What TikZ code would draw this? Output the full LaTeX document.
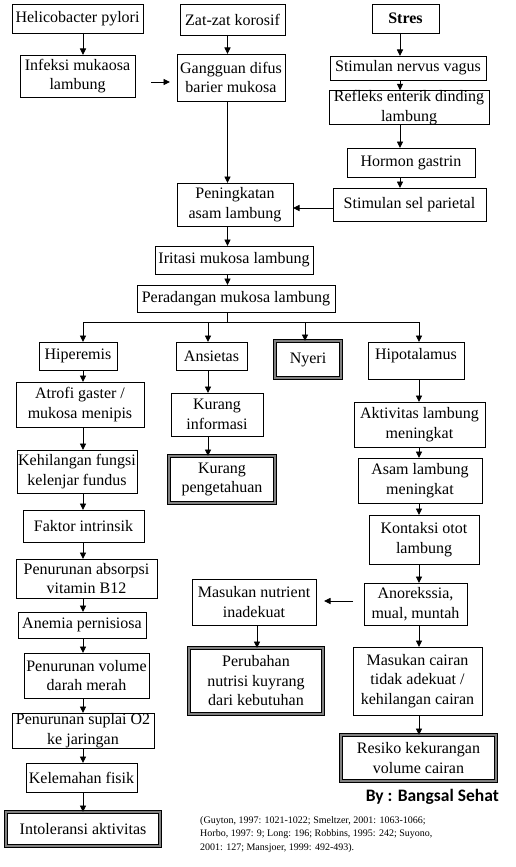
\documentclass[tikz,border=0pt]{standalone}
\usepackage{fontspec}
\setmainfont{Liberation Serif}
\newfontfamily\byfont{Carlito}
\usetikzlibrary{arrows.meta}
\definecolor{dgray}{RGB}{128,128,128}
\newcommand\mybox[7][]{%
 \pgfmathsetmacro\bcx{(#3+#5)/2}%
 \pgfmathsetmacro\bcy{(#4+#6)/2}%
 \pgfmathsetmacro\bw{#5-#3}%
 \pgfmathsetmacro\bh{#6-#4}%
 \node[box,minimum width=\bw pt,minimum height=\bh pt,#1] (#2) at (\bcx,\bcy) {#7};}
\tikzset{
 box/.style={draw, line width=0.9pt, inner sep=0pt, outer sep=0pt, align=center, font=\fontsize{16}{19.5}\selectfont},
 dbox/.style={double=dgray, double distance=2pt, line width=1pt},
 arr/.style={line width=0.9pt, -{Triangle[length=6.5pt,width=6pt]}},
 ln/.style={line width=0.9pt}
}
\begin{document}
\begin{tikzpicture}[x=1pt,y=-1pt]
\useasboundingbox (0,0) rectangle (516,867);
% column coordinates
\coordinate (cL) at (83,0);
\coordinate (cA) at (208,0);
\coordinate (cM) at (227.5,0);
\coordinate (cN) at (305,0);
\coordinate (cS) at (400,0);
\coordinate (cR) at (419,0);
\coordinate (cP) at (257,0);
\coordinate (y82) at (0,82);
\coordinate (y208) at (0,208);
\coordinate (y601) at (0,601);
\coordinate (br) at (227.5,322);
% top
\mybox{helico}{12}{4}{143}{33}{Helicobacter pylori}
\mybox{zat}{180}{4}{285}{35}{Zat-zat korosif}
\mybox{stres}{372}{4}{439}{33}{\textbf{Stres}}
\mybox{infeksi}{20}{55}{135}{97}{Infeksi mukaosa\\lambung}
\mybox{gangguan}{177}{54}{285}{101}{Gangguan difus\\barier mukosa}
\mybox{stimnv}{330}{56}{486}{80}{Stimulan nervus vagus}
\mybox{refleks}{329}{91}{489}{124}{Refleks enterik dinding\\lambung}
\mybox{hormon}{347}{148}{475}{177}{Hormon gastrin}
\mybox{stimsp}{333}{188}{486}{221}{Stimulan sel parietal}
\mybox{pening}{177}{183}{293}{226}{Peningkatan\\asam lambung}
\mybox{iritasi}{155}{246}{313}{274}{Iritasi mukosa lambung}
\mybox{perad}{137}{285}{335}{312}{Peradangan mukosa lambung}
% branches
\mybox{hiper}{39}{342}{117}{370}{Hiperemis}
\mybox{ansietas}{176}{342}{247}{370}{Ansietas}
\mybox[dbox]{nyeri}{275}{341}{341}{378}{Nyeri}
\mybox[text height=11pt,text depth=14pt]{hipo}{368}{342}{464}{379}{Hipotalamus}
% left column
\mybox{atrofi}{16}{382}{144}{427}{Atrofi gaster /\\mukosa menipis}
\mybox{kehil}{17}{450}{137}{493}{Kehilangan fungsi\\kelenjar fundus}
\mybox{faktor}{23}{510}{144}{542}{Faktor intrinsik}
\mybox{absorp}{16}{559}{157}{598}{Penurunan absorpsi\\vitamin B12}
\mybox{anemia}{18}{612}{146}{638}{Anemia pernisiosa}
\mybox{pvol}{24}{653}{149}{698}{Penurunan volume\\darah merah}
\mybox{psup}{12}{713}{154}{748}{Penurunan suplai O2\\ke jaringan}
\mybox{kelem}{26}{763}{137}{792}{Kelemahan fisik}
\mybox[dbox]{intol}{6}{812}{160}{846}{Intoleransi aktivitas}
% middle column
\mybox{kinfo}{171}{393}{263}{436}{Kurang\\informasi}
\mybox[dbox]{kpeng}{169}{456}{275}{503}{Kurang\\pengetahuan}
% right column
\mybox{aktiv}{354}{402}{485}{447}{Aktivitas lambung\\meningkat}
\mybox{asam}{358}{458}{482}{503}{Asam lambung\\meningkat}
\mybox{kontaksi}{369}{515}{479}{564}{Kontaksi otot\\lambung}
\mybox{anor}{364}{583}{467}{625}{Anorekssia,\\mual, muntah}
\mybox{nutr}{192}{579}{316}{625}{Masukan nutrient\\inadekuat}
\mybox[dbox]{perub}{189}{648}{323}{714}{Perubahan\\nutrisi kuyrang\\dari kebutuhan}
\mybox{cairan}{353}{647}{482}{715}{Masukan cairan\\tidak adekuat /\\kehilangan cairan}
\mybox[dbox]{resiko}{341}{735}{496}{781}{Resiko kekurangan\\volume cairan}
% credits
\node[anchor=east, inner sep=0pt, font=\byfont\bfseries\fontsize{17.5}{20}\selectfont] (by) at (499,797) {By : Bangsal Sehat};
\node[anchor=north west, inner sep=0pt, align=left, font=\fontsize{10}{13.5}\selectfont] (refs) at (200,816)
 {(Guyton, 1997: 1021-1022; Smeltzer, 2001: 1063-1066;\\Horbo, 1997: 9; Long: 196; Robbins, 1995: 242; Suyono,\\2001: 127; Mansjoer, 1999: 492-493).};
% connectors top
\draw[arr] (helico.south -| cL) -- (infeksi.north -| cL);
\draw[arr] (zat.south -| cM) -- (gangguan.north -| cM);
\draw[arr, shorten <=16pt, shorten >=7pt] (infeksi.east |- y82) -- (gangguan.west |- y82);
\draw[arr] (stres.south -| cS) -- (stimnv.north -| cS);
\draw[arr] (stimnv.south -| cS) -- (refleks.north -| cS);
\draw[arr] (refleks.south -| cS) -- (hormon.north -| cS);
\draw[arr] (hormon.south -| cS) -- (stimsp.north -| cS);
\draw[arr] (stimsp.west |- y208) -- (pening.east |- y208);
\draw[arr] (gangguan.south -| cM) -- (pening.north -| cM);
\draw[arr] (pening.south -| cM) -- (iritasi.north -| cM);
\draw[arr] (iritasi.south -| cM) -- (perad.north -| cM);
% branch
\draw[ln] (perad.south -| br) -- (br);
\draw[ln] (br -| cL) -- (br -| cR);
\draw[arr] (br -| cL) -- (hiper.north -| cL);
\draw[arr] (br -| cA) -- (ansietas.north -| cA);
\draw[arr] (br -| cN) -- (nyeri.north -| cN);
\draw[arr] (br -| cR) -- (hipo.north -| cR);
% left column
\draw[arr] (hiper.south -| cL) -- (atrofi.north -| cL);
\draw[arr] (atrofi.south -| cL) -- (kehil.north -| cL);
\draw[arr] (kehil.south -| cL) -- (faktor.north -| cL);
\draw[arr] (faktor.south -| cL) -- (absorp.north -| cL);
\draw[arr] (absorp.south -| cL) -- (anemia.north -| cL);
\draw[arr] (anemia.south -| cL) -- (pvol.north -| cL);
\draw[arr] (pvol.south -| cL) -- (psup.north -| cL);
\draw[arr] (psup.south -| cL) -- (kelem.north -| cL);
\draw[arr] (kelem.south -| cL) -- (intol.north -| cL);
% middle
\draw[arr] (ansietas.south -| cA) -- (kinfo.north -| cA);
\draw[arr] (kinfo.south -| cA) -- (kpeng.north -| cA);
% right
\draw[arr] (hipo.south -| cR) -- (aktiv.north -| cR);
\draw[arr] (aktiv.south -| cR) -- (asam.north -| cR);
\draw[arr] (asam.south -| cR) -- (kontaksi.north -| cR);
\draw[arr] (kontaksi.south -| cR) -- (anor.north -| cR);
\draw[arr] (anor.south -| cR) -- (cairan.north -| cR);
\draw[arr] (cairan.south -| cR) -- (resiko.north -| cR);
\draw[arr, shorten <=11pt, shorten >=8pt] (anor.west |- y601) -- (nutr.east |- y601);
\draw[arr] (nutr.south -| cP) -- (perub.north -| cP);
\end{tikzpicture}
\end{document}
